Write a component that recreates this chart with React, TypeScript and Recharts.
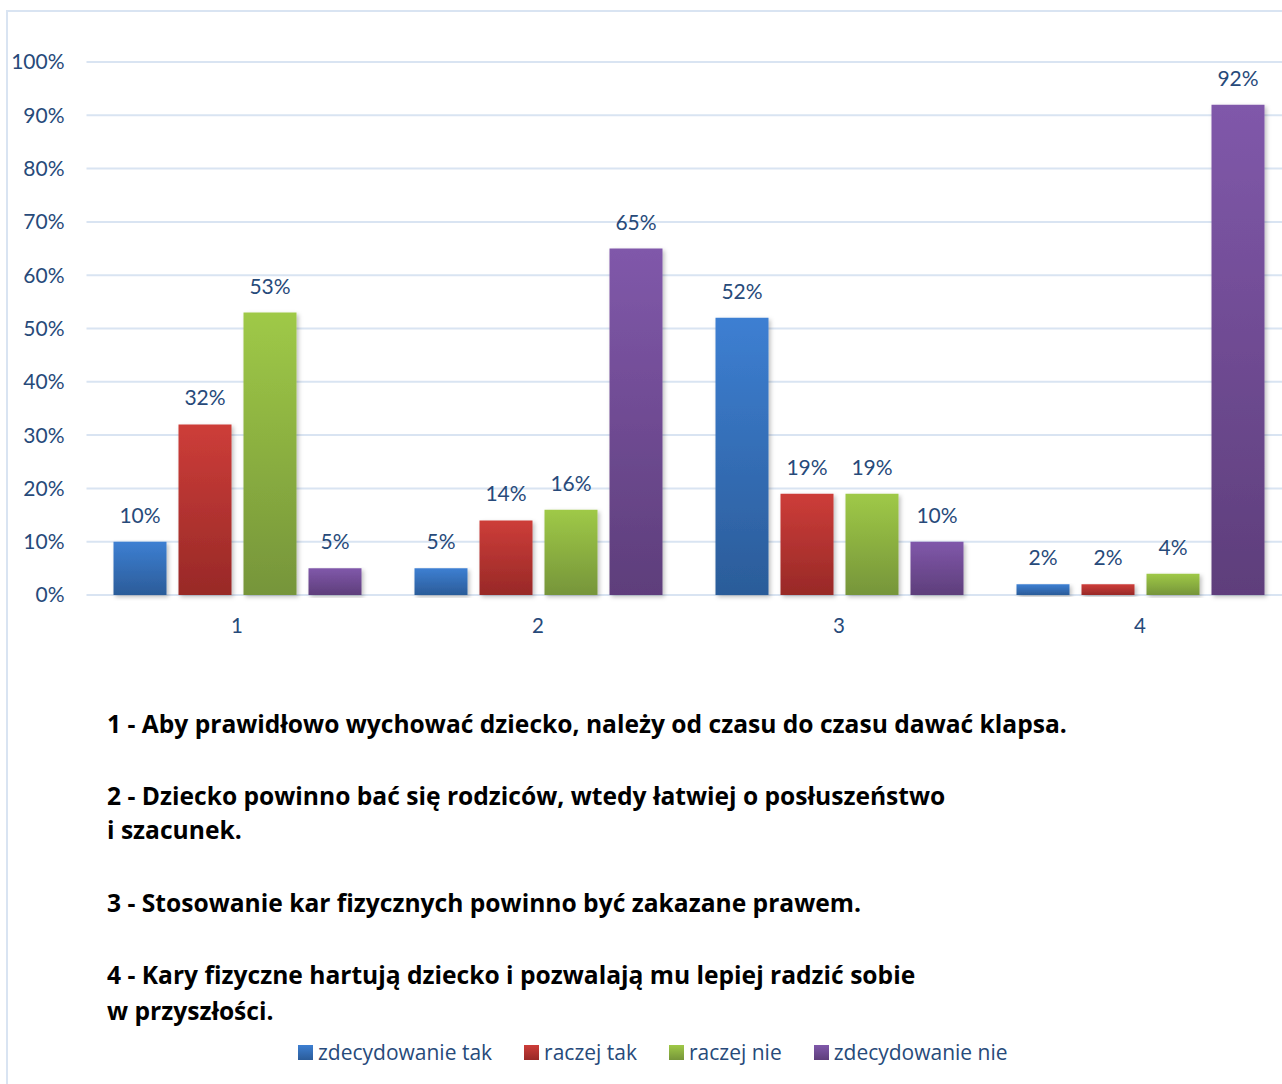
import React from 'react';
import { BarChart, Bar, XAxis, YAxis, CartesianGrid, LabelList, Legend } from 'recharts';

const categories = ['1', '2', '3', '4'];
const zdecydowanieTak = [10, 5, 52, 2];
const raczejTak = [32, 14, 19, 2];
const raczejNie = [53, 16, 19, 4];
const zdecydowanieNie = [5, 65, 10, 92];
const yTicks = [0, 10, 20, 30, 40, 50, 60, 70, 80, 90, 100];

const seriesNames = ['zdecydowanie tak', 'raczej tak', 'raczej nie', 'zdecydowanie nie'];
const seriesKeys = ['zt', 'rt', 'rn', 'zn'];
const seriesTop = ['#3d7fd2', '#cd3d39', '#9fc947', '#8058aa'];
const seriesBottom = ['#2b5c99', '#982927', '#76953a', '#5e3e7b'];

const explanations = [
  '1 - Aby prawidłowo wychować dziecko, należy od czasu do czasu dawać klapsa.',
  '2 - Dziecko powinno bać się rodziców, wtedy łatwiej o posłuszeństwo',
  'i szacunek.',
  '3 - Stosowanie kar fizycznych powinno być zakazane prawem.',
  '4 - Kary fizyczne hartują dziecko i pozwalają mu lepiej radzić sobie',
  'w przyszłości.',
];

const data = categories.map((c, i) => ({
  name: c,
  zt: zdecydowanieTak[i],
  rt: raczejTak[i],
  rn: raczejNie[i],
  zn: zdecydowanieNie[i],
}));

const TEXT = '#274a7a';
const FONT = 'Lato, "Open Sans", sans-serif';
const WIDE = '"Open Sans", Lato, sans-serif';

const renderLegend = () => (
  <div style={{ display: 'flex', alignItems: 'center', gap: 32, fontFamily: WIDE, fontSize: 21, color: TEXT, whiteSpace: 'nowrap' }}>
    {seriesNames.map((n, i) => (
      <div key={n} style={{ display: 'flex', alignItems: 'center' }}>
        <span
          style={{
            display: 'inline-block',
            width: 15,
            height: 15,
            marginRight: 5,
            background: `linear-gradient(${seriesTop[i]}, ${seriesBottom[i]})`,
          }}
        />
        <span>{n}</span>
      </div>
    ))}
  </div>
);

export default function App() {
  const lineTops = [706, 778, 812, 885, 957, 993];
  return (
    <div style={{ position: 'fixed', left: 0, top: 0, width: 1282, height: 1084, overflow: 'hidden', background: '#fff', fontFamily: FONT }}>
      <div style={{ position: 'absolute', left: 6, top: 10, width: 1320, height: 1120, border: '2px solid #d9e4f2', boxSizing: 'border-box' }} />
      <div style={{ position: 'absolute', left: 0, top: 0 }}>
        <BarChart
          width={1310}
          height={1084}
          data={data}
          margin={{ top: 62, right: 19.5, left: 0, bottom: 459 }}
          barGap={12}
          barSize={53}
        >
          <defs>
            {seriesKeys.map((k, i) => (
              <linearGradient key={k} id={`grad-${k}`} x1="0" y1="0" x2="0" y2="1">
                <stop offset="0%" stopColor={seriesTop[i]} />
                <stop offset="100%" stopColor={seriesBottom[i]} />
              </linearGradient>
            ))}
            <filter id="barShadow" x="-20%" y="-5%" width="140%" height="115%">
              <feDropShadow dx="2" dy="2" stdDeviation="2" floodColor="#000" floodOpacity="0.25" />
            </filter>
          </defs>
          <CartesianGrid vertical={false} stroke="#d9e4f2" strokeWidth={2} />
          <XAxis
            dataKey="name"
            height={30}
            axisLine={false}
            tickLine={false}
            tickSize={0}
            tickMargin={23}
            tick={{ fill: TEXT, fontSize: 20.5, fontFamily: FONT }}
          />
          <YAxis
            width={86.5}
            domain={[0, 100]}
            ticks={yTicks}
            axisLine={false}
            tickLine={false}
            tickSize={0}
            tickMargin={22}
            tickFormatter={(v: number) => `${v}%`}
            tick={{ fill: TEXT, fontSize: 21, fontFamily: FONT }}
          />
          <Legend
            layout="horizontal"
            verticalAlign="middle"
            align="center"
            content={renderLegend}
            wrapperStyle={{ position: 'absolute', left: 298, top: 1038, width: 780, height: 30 }}
          />
          {seriesKeys.map((k, i) => (
            <Bar
              key={k}
              dataKey={k}
              name={seriesNames[i]}
              fill={`url(#grad-${k})`}
              isAnimationActive={false}
              style={{ filter: 'url(#barShadow)' }}
            >
              <LabelList
                dataKey={k}
                position="top"
                offset={19}
                formatter={(v: number) => `${v}%`}
                fill={TEXT}
                fontSize={21}
                fontFamily={FONT}
              />
            </Bar>
          ))}
        </BarChart>
      </div>
      {explanations.map((t, i) => (
        <div
          key={i}
          style={{
            position: 'absolute',
            left: 107,
            top: lineTops[i],
            fontFamily: WIDE,
            fontWeight: 700,
            fontSize: 24.6,
            lineHeight: '36px',
            color: '#000',
            whiteSpace: 'nowrap',
          }}
        >
          {t}
        </div>
      ))}
    </div>
  );
}
